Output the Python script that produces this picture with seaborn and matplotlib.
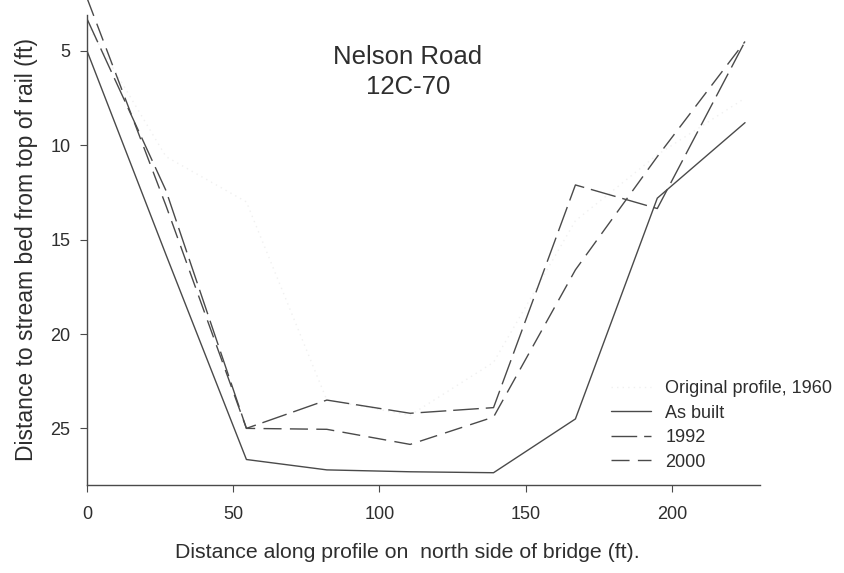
import matplotlib
matplotlib.use("Agg")
import matplotlib.pyplot as plt
import seaborn as sns
import pandas as pd

# ---- data ----
distance = [0, 27, 54.5, 82, 110.5, 139, 167, 195, 225]
original_1960 = [3.6, 10.6, 13.0, 23.5, 24.3, 21.5, 14.0, 10.5, 7.5]
as_built = [5.0, 15.8, 26.65, 27.2, 27.3, 27.35, 24.5, 12.8, 8.8]
y1992 = [3.3, 12.4, 25.0, 23.5, 24.2, 23.9, 12.1, 13.35, 4.5]
y2000 = [2.2, 13.2, 25.0, 25.05, 25.85, 24.4, 16.6, 10.6, 4.5]
series_names = ["Original profile, 1960", "As built", "1992", "2000"]
x_ticks = [0, 50, 100, 150, 200]
y_ticks = [5, 10, 15, 20, 25]

rows = []
for name, vals in zip(series_names, [original_1960, as_built, y1992, y2000]):
    for xv, yv in zip(distance, vals):
        rows.append({"x": xv, "y": yv, "series": name})
df = pd.DataFrame(rows)

sns.set_style("white")
plt.rcParams["font.family"] = ["Liberation Sans", "DejaVu Sans"]
TXT = "#2e2e2e"
LINE = "#4a4a4a"

fig = plt.figure(figsize=(8.45, 5.73), dpi=100)
ax = fig.add_axes([0.103, 0.1536, 0.796, 0.8464])

palette = {"Original profile, 1960": "#f0f0f0", "As built": LINE,
           "1992": LINE, "2000": LINE}
dashes = {"Original profile, 1960": (1, 3), "As built": "",
          "1992": (18.5, 5), "2000": (13, 6)}
sns.lineplot(data=df, x="x", y="y", hue="series", style="series",
             hue_order=series_names, style_order=series_names,
             palette=palette, dashes=dashes, estimator=None, sort=False,
             linewidth=1.0, legend=False, ax=ax)

ax.set_xlim(0, 230)
ax.set_ylim(28.0, 2.3)
ax.set_xticks(x_ticks)
ax.set_yticks(y_ticks)
ax.set_xlabel("")
ax.set_ylabel("")
for s in ["top", "right"]:
    ax.spines[s].set_visible(False)
for s in ["left", "bottom"]:
    ax.spines[s].set_color(LINE)
    ax.spines[s].set_linewidth(1.0)
ax.spines["left"].set_bounds(28.0, 3.1)
ax.tick_params(axis="both", direction="out", length=5, width=0.8,
               color=LINE, labelsize=13, labelcolor=TXT)
ax.tick_params(axis="x", pad=10)
ax.tick_params(axis="y", pad=7)
ax.tick_params(left=True, bottom=True)

handles = list(ax.get_lines())[:4]
leg = ax.legend(handles, series_names, loc="upper left",
                bbox_to_anchor=(611 / 845, 1 - 380 / 573),
                bbox_transform=fig.transFigure, frameon=False,
                fontsize=13, handlelength=2.2, handletextpad=0.8,
                labelspacing=0.42, borderpad=0, borderaxespad=0)
for t in leg.get_texts():
    t.set_color(TXT)

fig.text(408 / 845, 1 - 72 / 573, "Nelson Road\n12C-70", ha="center",
         va="center", fontsize=18.5, color=TXT, linespacing=1.3)
fig.text(407 / 845, 1 - 553 / 573,
         "Distance along profile on  north side of bridge (ft).",
         ha="center", va="center", fontsize=15.3, color=TXT)
fig.text(27 / 845, 1 - 249 / 573,
         "Distance to stream bed from top of rail (ft)",
         ha="center", va="center", rotation=90, fontsize=16.5, color=TXT)

fig.savefig("out.png", dpi=100)
